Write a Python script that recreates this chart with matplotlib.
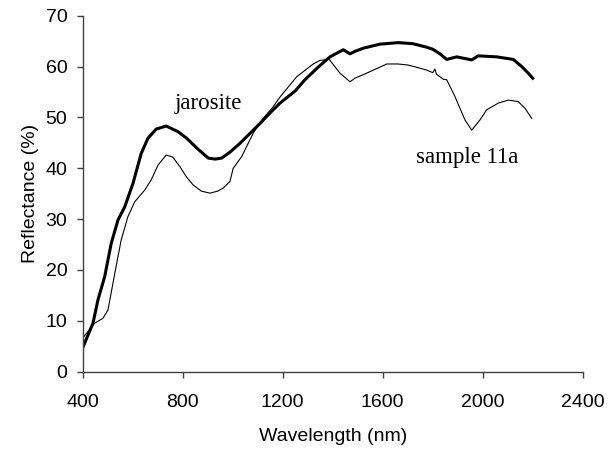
import matplotlib
matplotlib.use('Agg')
from matplotlib import pyplot as plt

# wavelength (nm) / reflectance (%)
jaro_x = [400, 441, 461, 488, 514, 541, 568, 601, 634, 661, 694, 734, 781,
          816, 860, 902, 930, 956, 990, 1029, 1070, 1109, 1150, 1189, 1250,
          1289, 1340, 1389, 1442, 1469, 1490, 1522, 1589, 1662, 1720, 1776,
          1800, 1829, 1856, 1896, 1956, 1982, 2056, 2122, 2156, 2182, 2200]
jaro_y = [4.7, 9.5, 14.1, 18.7, 25.2, 29.8, 32.4, 37.0, 42.9, 45.9, 47.7, 48.3, 47.2,
          45.9, 43.8, 42.0, 41.8, 42.0, 43.2, 44.9, 46.9, 48.8, 50.9, 52.8, 55.2,
          57.4, 59.8, 61.9, 63.3, 62.5, 63.0, 63.6, 64.4, 64.7, 64.5, 63.8,
          63.4, 62.5, 61.4, 61.9, 61.3, 62.1, 61.9, 61.4, 60.0, 58.7, 57.7]

samp_x = [400, 447, 481, 501, 521, 541, 554, 581, 608, 648, 674, 701, 734,
          760, 789, 815, 842, 875, 909, 940, 962, 989, 1002, 1036, 1082, 1122,
          1162, 1189, 1256, 1322, 1349, 1386, 1429, 1469, 1489, 1536, 1616,
          1662, 1700, 1740, 1776, 1800, 1809, 1815, 1842, 1856, 1889, 1929,
          1956, 1989, 2016, 2062, 2102, 2142, 2169, 2196]
samp_y = [6.6, 9.5, 10.5, 12.1, 17.4, 22.6, 25.9, 30.5, 33.4, 35.7, 37.7, 40.6, 42.6,
          42.2, 40.3, 38.3, 36.7, 35.5, 35.1, 35.5, 36.1, 37.4, 40.0, 42.3, 46.9, 49.8,
          52.1, 54.0, 58.0, 60.5, 61.2, 61.4, 58.7, 57.0, 57.7, 58.7, 60.5,
          60.5, 60.3, 59.8, 59.3, 58.8, 59.5, 58.5, 57.5, 57.4, 54.1, 49.5,
          47.5, 49.5, 51.5, 52.8, 53.4, 53.1, 51.8, 49.8]

x_ticks = [400, 800, 1200, 1600, 2000, 2400]
y_ticks = [0, 10, 20, 30, 40, 50, 60, 70]

plt.rcParams['font.family'] = ['Liberation Sans', 'DejaVu Sans']

fig = plt.figure(figsize=(6.13, 4.49), dpi=100)
ax = fig.add_axes([0.1349, 0.1722, 0.8157, 0.7929])

ax.plot(samp_x, samp_y, color='black', linewidth=0.8)
ax.plot(jaro_x, jaro_y, color='black', linewidth=2.2)

ax.set_xlim(400, 2400)
ax.set_ylim(0, 70)
ax.set_xticks(x_ticks)
ax.set_yticks(y_ticks)

for s in ['top', 'right']:
    ax.spines[s].set_visible(False)
for s in ['left', 'bottom']:
    ax.spines[s].set_color('#404040')
    ax.spines[s].set_linewidth(1.0)

ax.tick_params(axis='both', direction='out', length=4, width=1.0,
               color='#404040', labelsize=14)
ax.tick_params(axis='x', pad=12)
ax.tick_params(axis='y', pad=7)

ax.set_xlabel('Wavelength (nm)', fontsize=14, labelpad=12)
ax.set_ylabel('Reflectance (%)', fontsize=14, labelpad=5)

ax.text(901, 52.8, 'jarosite', family='Liberation Serif', fontsize=16.5,
        ha='center', va='center')
ax.text(1936, 42.2, 'sample 11a', family='Liberation Serif', fontsize=16.5,
        ha='center', va='center')

fig.savefig('out.png', dpi=100)
